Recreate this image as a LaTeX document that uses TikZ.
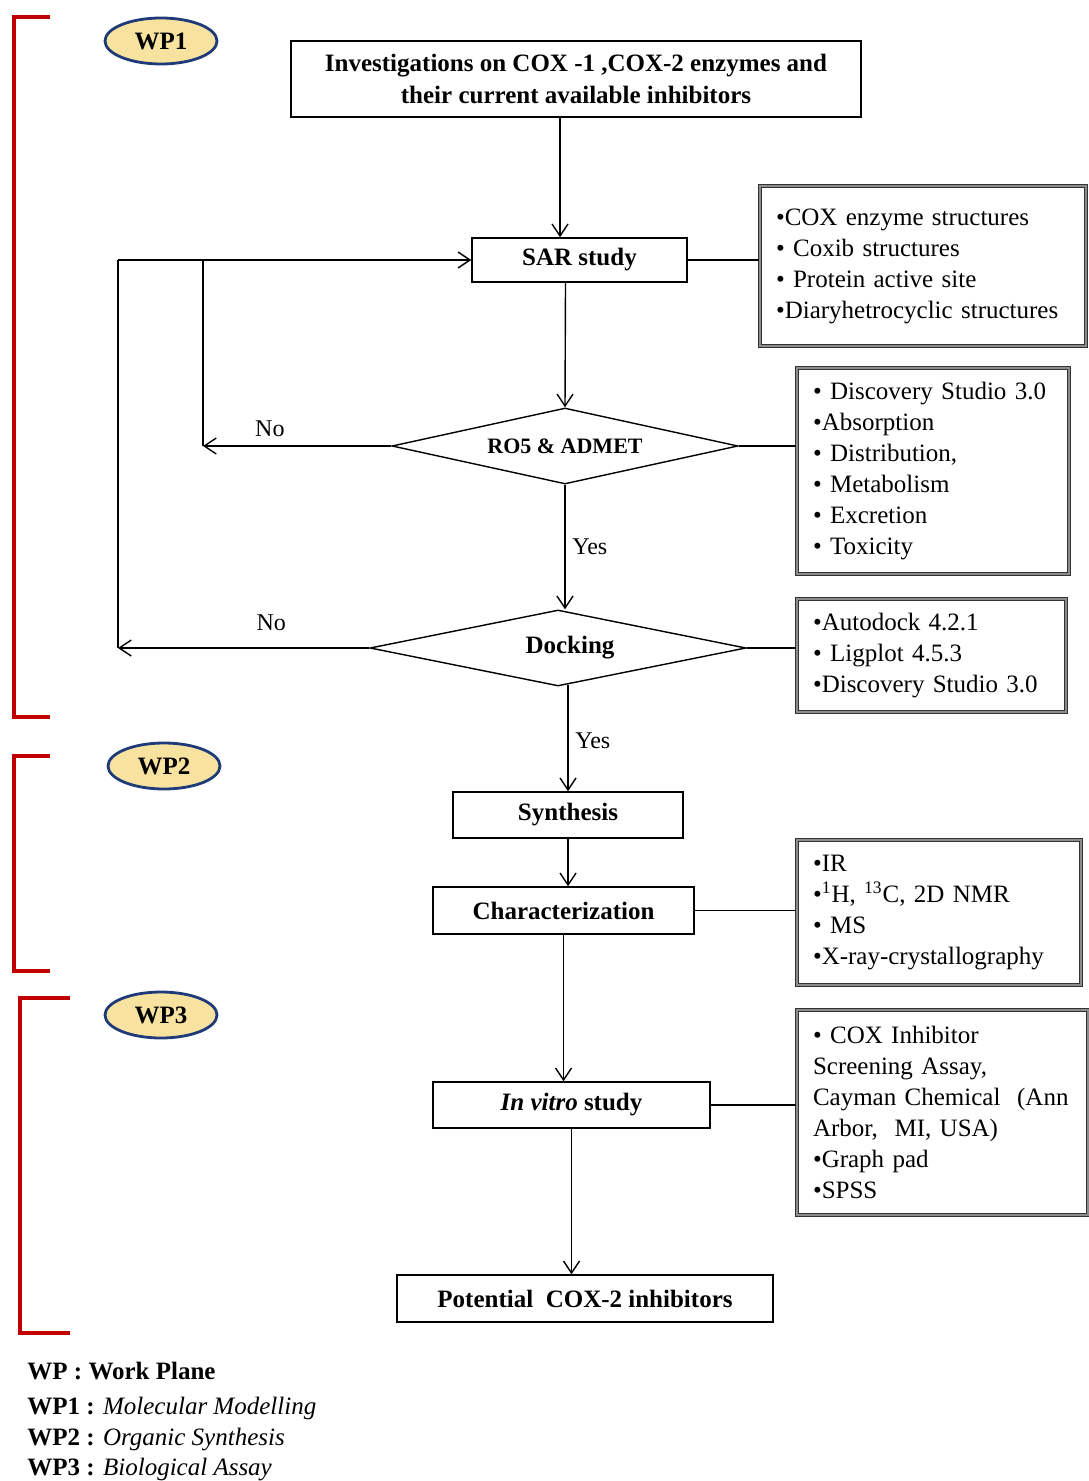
\documentclass[tikz,border=0pt]{standalone}
\usepackage{fontspec}
\setmainfont{Liberation Serif}
\usetikzlibrary{shapes.geometric, arrows.meta}

\definecolor{wpred}{HTML}{C00000}
\definecolor{wpnavy}{HTML}{1F3A78}
\definecolor{wpfill}{HTML}{F8E2A0}

\newcommand{\boxfont}{\fontsize{12.5}{16}\selectfont\bfseries}
\newcommand{\listfont}{\fontsize{12.5}{15.5}\selectfont}

\tikzstyle{process} = [rectangle, draw=black, line width=0.75pt, inner sep=0pt, align=center, font=\boxfont]
\tikzstyle{decision} = [diamond, aspect=4.5, draw=black, line width=0.7pt, inner sep=0pt, font=\boxfont]
\tikzstyle{infobox} = [rectangle, draw=black!80, line width=0.7pt, double=black!45, double distance=0.8pt, inner xsep=8pt, inner ysep=0pt, align=left, font=\listfont]
\tikzstyle{wpbadge} = [ellipse, draw=wpnavy, line width=1.4pt, fill=wpfill, minimum width=56pt, minimum height=23pt, inner sep=0pt, font=\boxfont]
\tikzstyle{bracket} = [draw=wpred, line width=1.6pt]
\tikzstyle{arrow} = [line width=0.7pt, ->, >={Straight Barb[length=6pt, width=8pt]}]
\tikzstyle{line} = [line width=0.7pt]
\tikzstyle{answer} = [font=\fontsize{12}{14}\selectfont]
\tikzstyle{legend} = [anchor=west, inner sep=0pt, font=\fontsize{12.5}{15}\selectfont]

\begin{document}
\begin{tikzpicture}[x=0.5pt, y=-0.5pt]
\useasboundingbox (0,0) rectangle (1088,1481);

%%% work planes %%%%%%%%%%%%%%%%%%%%%
\draw [bracket] (50,17) -- (14,17) -- (14,717) -- (50,717);
\draw [bracket] (50,756) -- (14,756) -- (14,971) -- (50,971);
\draw [bracket] (70,998) -- (20,998) -- (20,1333) -- (70,1333);

\node (wp1) [wpbadge] at (161,41) {WP1};
\node (wp2) [wpbadge] at (164,766) {WP2};
\node (wp3) [wpbadge] at (161,1015) {WP3};

%%% steps %%%%%%%%%%%%%%%%%%%%%%%%%%%
\node (invest) [process, minimum width=285pt, minimum height=38pt] at (576,79) {Investigations on COX -1 ,COX-2 enzymes and\\their current available inhibitors};
\node (sar) [process, minimum width=107.5pt, minimum height=22pt] at (579.5,260) {SAR study};
\node (ro5) [decision, minimum width=173pt, minimum height=38pt, font=\fontsize{11}{13}\selectfont\bfseries] at (565,446) {RO5 \& ADMET};
\node (docking) [decision, minimum width=188pt, minimum height=38pt] at (558,648) {\hspace*{12pt}Docking};
\node (synth) [process, minimum width=115pt, minimum height=23pt] at (568,815) {Synthesis};
\node (char) [process, minimum width=130.5pt, minimum height=23.5pt] at (563.5,910.5) {Characterization};
\node (invitro) [process, minimum width=138.5pt, minimum height=23pt] at (571.5,1105) {\textit{In vitro} study};
\node (potential) [process, minimum width=188pt, minimum height=23.5pt] at (585,1298.5) {Potential~ COX-2 inhibitors};

%%% tools and methods %%%%%%%%%%%%%%%
\node (info1) [infobox, text width=147pt, minimum height=80pt] at (923,266) {•COX enzyme structures\\• Coxib structures\\• Protein active site\\•Diaryhetrocyclic structures};
\node (info2) [infobox, text width=120pt, minimum height=103pt] at (933,471) {• Discovery Studio 3.0\\•Absorption\\• Distribution,\\• Metabolism\\• Excretion\\• Toxicity};
\node (info3) [infobox, text width=118.5pt, minimum height=56.5pt] at (931.5,655.5) {•Autodock 4.2.1\\• Ligplot 4.5.3\\•Discovery Studio 3.0};
\node (info4) [infobox, text width=126pt, minimum height=72.5pt] at (939,912.5) {•IR\\•\textsuperscript{1}H, \textsuperscript{13}C, 2D NMR\\• MS\\•X-ray-crystallography};
\node (info5) [infobox, text width=129.5pt, minimum height=102.5pt] at (942.5,1112.5) {• COX Inhibitor\\Screening Assay,\\Cayman Chemical~ (Ann\\Arbor,~ MI, USA)\\•Graph pad\\•SPSS};

%%% feedback loops %%%%%%%%%%%%%%%%%%
\coordinate (loopin) at (203,260);
\coordinate (loopout) at (118,260);

%%% drawing %%%%%%%%%%%%%%%%%%%%%%%%%
\draw [arrow] ([xshift=-8pt]invest.south) -- ([xshift=-8pt]invest.south |- sar.north);
\draw [arrow] ([xshift=-7pt]sar.south) -- (ro5.north);
\draw [arrow] (ro5.south) -- node[answer, right] {Yes} (ro5.south |- docking.north);
\draw [arrow] ([yshift=1pt]docking.south -| synth.north) -- node[answer, right, pos=0.53] {Yes} (synth.north);
\draw [arrow] (synth.south) -- (synth.south |- char.north);
\draw [arrow] (char.south) -- (char.south |- invitro.north);
\draw [arrow] (invitro.south) -- (invitro.south |- potential.north);

\draw [arrow] (loopout) -- (sar.west);
\draw [line] (loopin) -- (loopin |- ro5.west);
\draw [arrow] (ro5.west) -- node[answer, above, pos=0.645, yshift=1pt] {No} (ro5.west -| loopin);
\draw [line] (loopout) -- (loopout |- docking.west);
\draw [arrow] (docking.west) -- node[answer, above, pos=0.39, yshift=5pt] {No} (docking.west -| loopout);

\draw [line] (sar.east) -- (sar.east -| info1.west);
\draw [line] (ro5.east) -- (ro5.east -| info2.west);
\draw [line] (docking.east) -- (docking.east -| info3.west);
\draw [line] (char.east) -- (char.east -| info4.west);
\draw [line] (invitro.east) -- (invitro.east -| info5.west);

%%% legend %%%%%%%%%%%%%%%%%%%%%%%%%%
\node (legwp) [legend] at (27,1371) {\textbf{WP : Work Plane}};
\node (legwp1) [legend] at (27,1408) {\textbf{WP1 :} \textit{Molecular Modelling}};
\node (legwp2) [legend] at (27,1440) {\textbf{WP2 :} \textit{Organic Synthesis}};
\node (legwp3) [legend] at (27,1470) {\textbf{WP3 :} \textit{Biological Assay}};
\end{tikzpicture}
\end{document}
